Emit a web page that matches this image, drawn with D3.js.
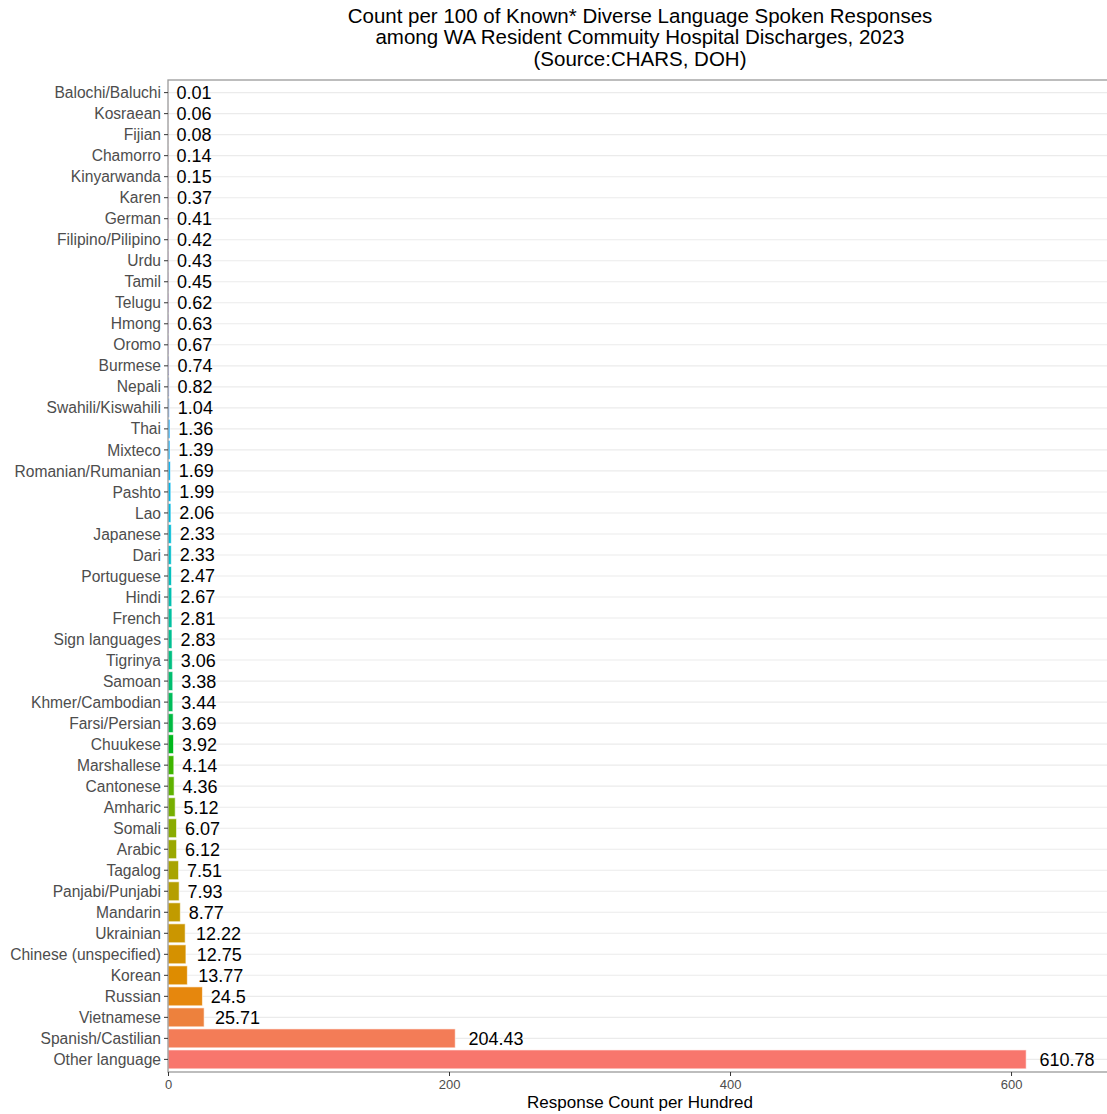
<!DOCTYPE html>
<html><head><meta charset="utf-8">
<script src="https://cdn.jsdelivr.net/npm/d3@7"></script>
<style>body{margin:0;background:#fff;} svg{display:block;font-family:"Liberation Sans",Arial,sans-serif;}</style>
</head><body>
<svg id="chart" width="1107" height="1114"></svg>
<script>
const languages = ["Other language","Spanish/Castilian","Vietnamese","Russian","Korean","Chinese (unspecified)","Ukrainian","Mandarin","Panjabi/Punjabi","Tagalog","Arabic","Somali","Amharic","Cantonese","Marshallese","Chuukese","Farsi/Persian","Khmer/Cambodian","Samoan","Tigrinya","Sign languages","French","Hindi","Portuguese","Dari","Japanese","Lao","Pashto","Romanian/Rumanian","Mixteco","Thai","Swahili/Kiswahili","Nepali","Burmese","Oromo","Hmong","Telugu","Tamil","Urdu","Filipino/Pilipino","German","Karen","Kinyarwanda","Chamorro","Fijian","Kosraean","Balochi/Baluchi"];
const counts = [610.78,204.43,25.71,24.5,13.77,12.75,12.22,8.77,7.93,7.51,6.12,6.07,5.12,4.36,4.14,3.92,3.69,3.44,3.38,3.06,2.83,2.81,2.67,2.47,2.33,2.33,2.06,1.99,1.69,1.39,1.36,1.04,0.82,0.74,0.67,0.63,0.62,0.45,0.43,0.42,0.41,0.37,0.15,0.14,0.08,0.06,0.01];
const xTicks = [0,200,400,600];
const titleLines = ["Count per 100 of Known* Diverse Language Spoken Responses","among WA Resident Commuity Hospital Discharges, 2023","(Source:CHARS, DOH)"];
const xTitle = "Response Count per Hundred";

// R-style hcl (polar CIELUV) -> hex
function hclR(h, c, l){
  const Xn=95.047, Yn=100.0, Zn=108.883;
  const hr = h*Math.PI/180;
  const u = c*Math.cos(hr), v = c*Math.sin(hr);
  const Y = l > 7.999592 ? Yn*Math.pow((l+16)/116,3) : Yn*l/903.3;
  const un = 4*Xn/(Xn+15*Yn+3*Zn), vn = 9*Yn/(Xn+15*Yn+3*Zn);
  const up = u/(13*l) + un, vp = v/(13*l) + vn;
  const X = 9.0*Y*up/(4*vp);
  const Z = -X/3 - 5*Y + 3*Y/vp;
  const x=X/100,y=Y/100,z=Z/100;
  let r = 3.240479*x - 1.537150*y - 0.498535*z;
  let g = -0.969256*x + 1.875992*y + 0.041556*z;
  let b = 0.055648*x - 0.204043*y + 1.057311*z;
  const gam = t => { t = t > 0.00304 ? 1.055*Math.pow(t,1/2.4)-0.055 : 12.92*t; return Math.round(255*Math.max(0,Math.min(1,t))); };
  return d3.rgb(gam(r),gam(g),gam(b)).formatHex();
}
const n = languages.length;
const hues = d3.range(n).map(i => 15 + 360*i/n);
const colors = hues.map(h => hclR(h,100,65));

const svg = d3.select("#chart");
const pLeft = 168, pRight = 1112, pTop = 80, pBottom = 1072;

const x = d3.scaleLinear().domain([0, d3.max(counts)*1.1]).range([pLeft, pRight]);
const step = (pBottom - pTop) / (n - 1 + 1.2);
const yPos = d3.scaleLinear().domain([0, n-1]).range([pBottom - 0.6*step, pTop + 0.6*step]);
const bandH = 0.9*step;

const g = svg.append("g");
g.selectAll("line.grid").data(languages).join("line")
  .attr("x1", pLeft).attr("x2", pRight)
  .attr("y1", (d,i)=>yPos(i)).attr("y2",(d,i)=>yPos(i))
  .attr("stroke", "#EBEBEB").attr("stroke-width", 1.1);

g.selectAll("rect.bar").data(counts).join("rect")
  .attr("x", x(0)).attr("y", (d,i)=>yPos(i)-bandH/2)
  .attr("width", d=>x(d)-x(0)).attr("height", bandH)
  .attr("fill", (d,i)=>colors[i])
  .attr("stroke", "#ffffff").attr("stroke-opacity",0.6).attr("stroke-width", 1);

const labs = g.selectAll("text.val").data(counts).join("text")
  .attr("y", (d,i)=>yPos(i)).attr("dy","0.36em")
  .attr("font-size", 18).attr("fill","#000")
  .text(d=>String(d));
labs.each(function(d){
  const w = this.getComputedTextLength();
  d3.select(this).attr("x", x(d) + 0.24*w);
});

svg.append("rect").attr("x", pLeft).attr("y", pTop).attr("width", pRight-pLeft).attr("height", pBottom-pTop)
  .attr("fill","none").attr("stroke","#9a9a9a").attr("stroke-width",1.3);

const yAxis = svg.append("g");
yAxis.selectAll("line").data(languages).join("line")
  .attr("x1", pLeft-4).attr("x2", pLeft)
  .attr("y1",(d,i)=>yPos(i)).attr("y2",(d,i)=>yPos(i))
  .attr("stroke","#333").attr("stroke-width",1);
yAxis.selectAll("text").data(languages).join("text")
  .attr("x", pLeft-7).attr("y",(d,i)=>yPos(i)).attr("dy","0.36em")
  .attr("text-anchor","end").attr("font-size",15.6).attr("fill","#4D4D4D")
  .text(d=>d);

const xAxis = svg.append("g").attr("transform",`translate(0,${pBottom})`)
  .call(d3.axisBottom(x).tickValues(xTicks).tickSize(4).tickPadding(4).tickFormat(d3.format("d")));
xAxis.select(".domain").remove();
xAxis.selectAll(".tick line").attr("stroke","#333");
xAxis.selectAll(".tick text").attr("font-size",13).attr("fill","#4D4D4D").attr("font-family","Liberation Sans, Arial, sans-serif");

svg.append("text").attr("x",(pLeft+pRight)/2).attr("y",1108).attr("text-anchor","middle")
  .attr("font-size",17).attr("fill","#000").text(xTitle);

svg.append("g").selectAll("text").data(titleLines).join("text")
  .attr("x",(pLeft+pRight)/2).attr("y",(d,i)=>22.7 + i*21.5).attr("text-anchor","middle")
  .attr("font-size",20.5).attr("fill","#000").text(d=>d);
</script>
</body></html>
